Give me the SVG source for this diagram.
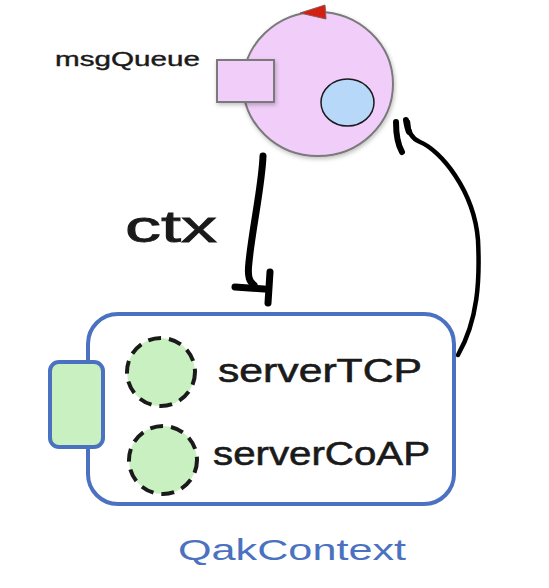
<svg xmlns="http://www.w3.org/2000/svg" width="549" height="588" viewBox="0 0 549 588">
<defs>
<filter id="sh" x="-20%" y="-20%" width="140%" height="140%">
<feDropShadow dx="1" dy="2" stdDeviation="2" flood-color="#000" flood-opacity="0.25"/>
</filter>
</defs>
<style>
.hand{font-family:"Liberation Sans","DejaVu Sans",sans-serif;fill:#1a1a1a}
.conn{fill:none;stroke:#000;stroke-linecap:round;stroke-linejoin:round}
.dash{fill:#c8f0c0;stroke:#1a1a1a;stroke-width:4;stroke-dasharray:13 8}
.blue{stroke:#4a72c0;stroke-width:4}
</style>
<rect width="549" height="588" fill="#fff"/>
<g id="msgQueueActor">
<ellipse cx="318" cy="84" rx="75" ry="72" fill="#f1cdf9" stroke="#7a7a7a" stroke-width="2" filter="url(#sh)"/>
<polygon points="300,13 325,5 326,19" fill="#d42010" stroke="#8a5a5a" stroke-width="1"/>
<rect x="217" y="60" width="57" height="42" fill="#f1cdf9" stroke="#7a7a7a" stroke-width="2" filter="url(#sh)"/>
<ellipse cx="347.5" cy="102.5" rx="26.5" ry="23.5" fill="#b8d8fa" stroke="#1a1a1a" stroke-width="1.5"/>
<text class="hand" x="55" y="66" font-size="21" stroke="#1a1a1a" stroke-width="0.4" textLength="145" lengthAdjust="spacingAndGlyphs">msgQueue</text>
</g>
<g id="connectors">
<path class="conn" stroke-width="7" d="M263,156 C262,185 252,230 249,262 C247,278 250,282 254,285"/>
<path class="conn" stroke-width="7" d="M235,287 L264,289 M270,272 L268,303"/>
<text class="hand" x="125" y="242" font-size="44" stroke="#1a1a1a" stroke-width="0.8" textLength="92" lengthAdjust="spacingAndGlyphs">ctx</text>
<path class="conn" stroke-width="4.5" d="M458,355 C478,320 480,280 478,240 C474,190 440,150 420,142 C410,138 408,130 408,122"/>
<path class="conn" stroke-width="6" d="M396,122 C396,135 398,145 402,152 M406,120 C407,126 408,130 409,132"/>
</g>
<g id="QakContext">
<rect x="88" y="314" width="366" height="190" rx="30" fill="none" class="blue"/>
<rect x="50" y="362" width="53" height="85" rx="9" fill="#c8f0c0" class="blue"/>
<text x="178" y="560" font-family="Liberation Sans, DejaVu Sans, sans-serif" font-size="30" fill="#4a72c0" textLength="228" lengthAdjust="spacingAndGlyphs">QakContext</text>
</g>
<g id="serverTCP">
<circle cx="161" cy="372" r="34" class="dash"/>
<text class="hand" x="218" y="382" font-size="34" stroke="#1a1a1a" stroke-width="0.6" textLength="204" lengthAdjust="spacingAndGlyphs">serverTCP</text>
</g>
<g id="serverCoAP">
<circle cx="163" cy="460" r="34" class="dash"/>
<text class="hand" x="213" y="465" font-size="34" stroke="#1a1a1a" stroke-width="0.6" textLength="217" lengthAdjust="spacingAndGlyphs">serverCoAP</text>
</g>
</svg>
